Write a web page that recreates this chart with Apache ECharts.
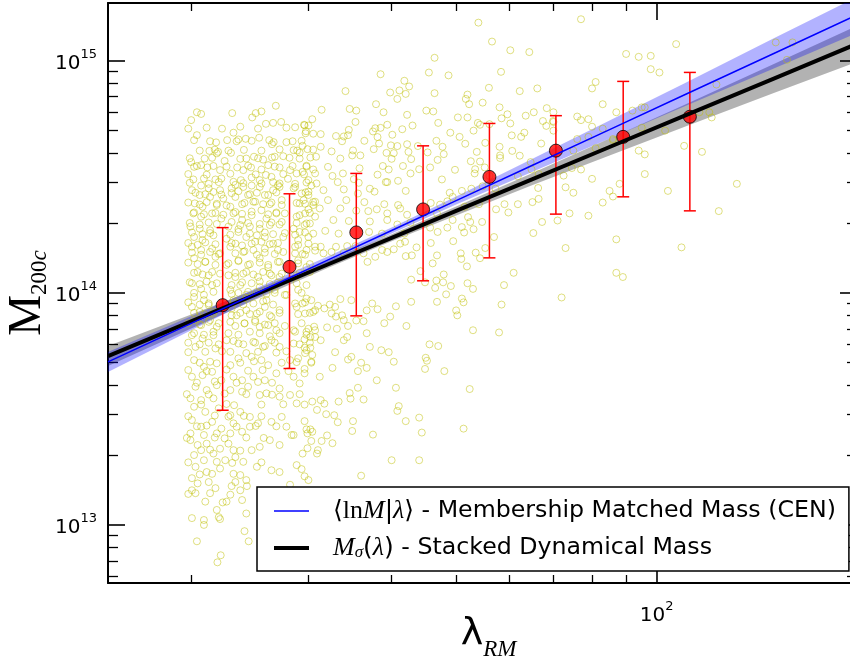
<!DOCTYPE html>
<html>
<head>
<meta charset="utf-8">
<script src="https://cdn.jsdelivr.net/npm/echarts@6/dist/echarts.min.js"></script>
<style>
  html, body { margin: 0; padding: 0; background: #fff; }
  #main { width: 850px; height: 657px; }
</style>
</head>
<body>
<div id="main"></div>
<script>
// masses are in units of 1e14
var MU = 1e14;

// stacked bins (red points with error bars)
var binLambda = [22.3, 28.1, 35.4, 44.6, 56.1, 70.6, 89.1, 112.2];
var binMass = [0.885, 1.294, 1.821, 2.288, 3.16, 4.10, 4.70, 5.74];
var binLow = [0.312, 0.472, 0.796, 1.127, 1.415, 2.184, 2.593, 2.256];
var binHigh = [1.91, 2.672, 3.27, 4.30, 5.37, 5.80, 8.15, 8.91];

// fitted relations and their bands
var fitLambda = [15, 20, 25, 32, 40, 50, 65, 85, 110, 150, 200];
var membFit = [0.504, 0.739, 0.994, 1.380, 1.857, 2.498, 3.539, 5.053, 7.122, 10.75, 15.76];
var membLow = [0.4565, 0.6895, 0.9458, 1.3334, 1.803, 2.401, 3.318, 4.622, 6.353, 9.267, 13.18];
var membHigh = [0.5567, 0.7922, 1.0447, 1.4295, 1.9127, 2.598, 3.775, 5.527, 7.983, 12.49, 18.84];
var dynFit = [0.534, 0.7532, 0.9836, 1.3216, 1.7258, 2.2535, 3.0839, 4.25, 5.7847, 8.383, 11.83];
var dynLow = [0.4834, 0.7025, 0.9359, 1.2764, 1.6668, 2.155, 2.9052, 3.9068, 5.188, 7.261, 9.893];
var dynHigh = [0.5897, 0.8076, 1.0337, 1.3686, 1.7868, 2.3565, 3.2734, 4.6238, 6.4537, 9.683, 14.146];

// individual clusters [lambda, M/1e14]
var clusterPoints = [
  // high richness
  [77,15.1],[107,11.8],[151,12],[160,12],[157,10.1],[90,10.7],[94,10.4],[98,10.5],[98,9.2],[101,8.9],
  [81,8.1],[80,7.6],[123,7.9],[83,6.5],[70,6.0],[87,6.0],[92,6.1],[95,6.3],[96,6.3],[76,5.75],
  [77,5.55],[79,5.6],[70,5.45],[80,5.2],[83,5.1],[70,5.0],[95,5.15],[103,5.0],[116,6.0],[120,6.0],
  [121,5.7],[76,4.6],[79,4.7],[86,4.55],[86,4.6],[75,4.1],[81,4.2],[94,4.1],[96,3.95],[110,4.3],
  [117,4.05],[72.5,3.2],[74.6,3.45],[77,3.4],[80,3.1],[96,3.25],[88,2.95],[132,2.95],[104,2.75],[73,2.85],
  [75,2.7],[85,2.75],[86,2.6],[83,2.45],[74,2.2],[71,2.05],[79,2.15],[124,2.25],[87,1.7],[73,1.56],
  [109,1.57],[87,1.22],[89,1.17],[72,0.955],
  // middle richness, upper part
  [54,14.6],[56.6,12.1],[60.3,11.1],[64.4,10.9],[46.4,10.3],[58.4,8.96],[45.5,8.9],[48.7,8.65],[38.5,8.75],[41.8,8.2],
  [42.5,7.75],[41.1,7.45],[39.8,7.3],[34.1,7.4],[42,7.2],[40.8,6.85],[46.4,7.25],[52,7.15],[51.7,6.85],[56,7.65],
  [62.3,7.4],[66.2,7.6],[54.8,6.6],[52.3,6.5],[37.9,6.5],[31.4,6.15],[34.6,6.2],[35.4,6.1],[38.9,6.0],[45.1,6.1],
  [46.2,6.05],[58.1,6.3],[65.4,6.0],[68.4,6.25],[30.4,5.6],[35.3,5.45],[42.2,5.85],[50.3,5.7],[52,5.7],[53.9,5.4],
  [58.5,5.65],[59.7,5.88],[63.6,5.8],[67.5,5.5],[69.9,5.5],[29.6,5.27],[30,5.26],[34.5,5.04],[37.8,5.12],[38.5,5.14],
  [39.4,5.3],[43,5.26],[47,5.4],[54.3,5.3],[56.1,5.33],[60.3,5.37],[68.3,5.24],[29.7,4.87],[30.5,4.85],[31.3,4.83],
  [33,4.74],[33.9,4.72],[34.4,4.78],[37.5,4.96],[38.1,4.69],[40.1,4.8],[41.5,5.07],[49,4.9],[50.6,4.7],[53.1,5.0],
  [60.6,4.77],[62.6,4.7],[63.3,4.9],[29.3,4.52],[33.7,4.5],[36.4,4.52],[38.3,4.4],[39.9,4.32],[40.8,4.29],[42.2,4.37],
  [46.7,4.52],[47.7,4.26],[51.6,4.39],[55.3,4.43],[58.1,4.26],[67.1,4.4],[31.3,4.26],[32.5,4.07],[35,4.11],[35.9,3.91],
  [37.6,4.16],[39.3,4.01],[40.3,4.0],[42.4,4.05],[43.8,4.29],[45.3,4.03],[47.9,3.96],[53.7,4.05],[58.2,3.91],[60.7,4.09],
  [62.3,3.9],[30.2,3.83],[30.8,3.86],[33.5,3.79],[34.9,3.91],[40,3.78],[42.8,3.77],[46.9,3.74],[52.6,3.69],[54.3,3.68],
  [58.2,3.81],[64.7,3.66],[29.8,3.53],[32.1,3.49],[35.8,3.44],[38.8,3.52],[39.6,3.4],[41.6,3.52],[44,3.41],[45.7,3.47],
  [49.8,3.39],[53.4,3.41],[55.2,3.47],[64.9,3.4],[29.4,3.32],[30.7,3.27],[32.6,3.19],[33.8,3.27],[35.1,3.09],[38.1,3.23],
  [39.4,3.0],[40.9,3.04],[42.7,3.27],[47.6,3.08],[53.3,3.27],[56.1,3.19],[61.9,3.18],[66.5,3.25],[30,3.06],[33.2,3.0],
  [35.7,2.98],[37.1,2.81],[37.7,2.73],[39.2,3.0],[42,2.75],[48.9,2.7],[49.4,2.59],[51,2.75],[52.7,2.81],[54.8,2.88],
  [57.3,2.81],[66.4,2.83],[66.5,2.54],[29.7,2.71],[31.6,2.77],[33.9,2.79],[35.6,2.68],[29.5,2.51],[30.7,2.47],[32.1,2.51],
  [34.2,2.51],[36.4,2.46],[39,2.41],[40.9,2.39],[45.8,2.44],[47.3,2.4],[48.5,2.48],[51.5,2.35],[54.1,2.41],[59.1,2.41],
  [61.9,2.41],[65.1,2.46],[30,2.29],[31.2,2.31],[33.5,2.31],[35.4,2.26],[36.9,2.25],[38,2.29],[39.4,2.2],[41.2,2.31],
  [42.2,2.17],[46.8,2.2],[49.4,2.06],[52.1,2.12],[57.4,2.29],[59.9,2.22],[30.7,2.13],[32.7,2.06],[34.5,2.04],[37.1,2.03],
  [39.4,2.06],[40.8,1.97],[42.7,2.01],[45.7,1.91],[48.5,1.91],[51,1.92],[52.5,2.02],[53.1,1.88],[54.7,2.02],[65.3,1.81],
  [67.3,2.02],[29.6,1.96],[31.8,1.85],[33.3,1.8],[37,1.83],[38.7,1.8],[41.8,1.8],[46.9,1.83],[51.4,1.82],[57,1.74],
  // middle richness, lower part
  [61,1.22],[59,1.08],[58.5,0.89],[58,0.675],[53,0.69],[53,1.04],[52,1.1],[51,0.945],[51.3,0.91],[50,0.84],
  [50.2,0.80],[52.4,0.385],[51.3,0.26],[48,0.46],[45.6,0.6],[47,0.59],[45,0.525],[45.2,0.51],[44.9,0.47],[44,0.29],
  [44.4,0.25],[44,0.19],[42,0.28],[40.6,0.39],[41,0.325],[40.8,0.31],[40,0.19],[38,0.42],[37.5,0.245],[36,0.163],
  [36.7,0.475],[36,0.5],[35.6,0.46],[35.6,0.39],[34.6,0.37],[34.7,0.35],[36.3,0.347],[35,0.28],[34.9,0.254],[33.3,0.34],
  [33.2,0.277],[32.8,0.297],[31.9,0.30],[31.7,0.333],[31.3,0.345],[30.9,0.313],[30.4,0.34],[29.6,0.33],[29.6,0.28],[29.8,0.258],
  [30.2,0.258],[29.9,0.248],[30.4,0.252],[32,0.243],[32.6,0.225],[31.4,0.23],[30.3,0.23],[29.9,0.214],[31,0.21],[30.9,0.203],
  [29.4,0.203],[29.3,0.174],[29.6,0.162],[30,0.156],[31.2,0.435],[32.6,0.475],[32.9,0.555],[34.4,0.516],[34.8,0.53],[30.3,0.5],
  [29.6,0.45],[29.6,0.47],[30.4,0.54],[30.2,0.58],[29.6,0.58],[29.6,0.63],[30.2,0.645],[30.7,0.645],[31.3,0.625],[33.9,0.625],
  [34.3,0.645],[34.4,0.72],[33.1,0.70],[32,0.71],[30.6,0.715],[30,0.70],[37.1,0.585],[38.6,0.566],[39.6,0.555],[40.3,0.505],
  [36.7,0.67],[39,0.74],[39.8,0.79],[42.1,0.72],[40.6,0.875],[38.1,0.85],[37.4,0.9],[36.7,0.84],[36.3,0.755],[35.4,0.76],
  [34.8,0.93],[33.5,0.94],[32.9,0.87],[32.3,0.89],[31.7,0.857],[31,0.88],[30.3,0.93],[29.8,0.945],[29.4,0.9],[30.7,0.842],
  [32.5,0.815],[33,0.79],[33.7,0.80],[33.9,0.763],[29.4,1.47],[29.8,1.53],[30.7,1.52],[31.3,1.58],[31.6,1.48],[32.5,1.5],
  [33,1.58],[33.9,1.49],[34.3,1.59],[35.3,1.59],[36.3,1.48],[36.8,1.36],[37.8,1.43],[38.7,1.53],[39.4,1.5],[40.3,1.54],
  [41.2,1.63],[41.9,1.66],[42.9,1.45],[42,1.44],[43.6,1.57],[45.8,1.64],[46.8,1.45],[49.5,1.67],[50.8,1.48],[50.9,1.4],
  [53.5,1.49],[54.3,1.41],[55.3,1.56],[51.9,1.3],[46.1,1.34],[47.9,1.2],[46.7,1.13],[47.8,1.11],[48.3,0.985],[49.1,1.07],
  [46.5,1.05],[46.8,0.915],[44.9,1.11],[44.2,1.24],[42.8,1.14],[42.8,0.915],
  // low richness, dense column
  [26.8,6.4],[20.7,5.9],[20,5.55],[25,5.95],[24.7,5.7],[20.4,4.78],[25.9,5.35],[26.55,5.4],[27.3,5.45],[28.65,5.17],
  [29.55,5.3],[29.75,4.97],[23.15,4.9],[22.65,4.55],[21.8,4.45],[23.4,4.5],[24.15,4.61],[25.3,4.66],[26.45,4.37],[26.6,4.46],
  [27.8,4.46],[29.4,4.3],[21.95,4.05],[21.3,4.09],[20,3.66],[20.95,3.79],[22.95,4.01],[22.45,3.7],[24.2,3.79],[24.85,3.86],
  [25.65,3.75],[26.7,3.86],[27.5,3.88],[28.1,3.82],[28.5,4.12],[29.1,4.02],[29.9,4.16],[30.5,4.14],[21.85,3.99],
  [20.2,3.49],[20.7,3.55],[21.15,3.47],[21.6,3.52],[22.1,3.38],[23.45,3.47],[23.95,3.38],[24.6,3.47],[25.5,3.4],[26.1,3.55],
  [27.15,3.47],[28.15,3.38],[28.8,3.27],[30.5,3.4],[20.15,3.08],[20.9,3.11],[21.75,3.08],[22.2,3.11],[23.15,3.01],[23.75,3.06],
  [24.65,3.14],[25.35,3.06],[26.4,3.16],[27.15,2.96],[27.95,3.1],[28.65,2.86],[30.85,2.96],
  [20.05,2.77],[20.6,2.64],[21.25,2.82],[21.35,2.59],[22.1,2.77],[22.35,2.55],[23,2.82],[23.3,2.59],[23.95,2.86],[24.35,2.64],
  [25.35,2.86],[25.8,2.64],[26.55,2.77],[27.15,2.86],[27.35,2.51],[28.5,2.82],[29.1,2.43],[30,2.64],[30.5,2.39],[20.25,2.43],
  [20.8,2.35],[21.85,2.39],[22.9,2.35],[23.85,2.41],[24.95,2.47],[26.25,2.41],[25.5,2.27],
  [20.15,2.2],[20.7,2.13],[21.5,2.2],[22.2,2.09],[23.15,2.2],[23.85,2.06],[24.65,2.16],[25.95,2.09],[26.85,2.2],[27.35,2.02],
  [28.8,2.13],[29.65,2.2],[30.15,1.99],[19.95,1.93],[20.6,1.89],[21.35,1.86],[22.75,1.93],[23.55,1.88],[24.5,1.93],[25.35,1.89],
  [26.25,1.96],[28.5,1.89],[29.1,1.83],
  [20.2,1.74],[20.8,1.69],[21.6,1.77],[22.6,1.71],[23.3,1.63],[24.2,1.74],[24.95,1.66],[25.8,1.74],[26.55,1.63],[27.5,1.74],
  [28.95,1.69],[30,1.74],[30.7,1.58],[20.05,1.58],[20.7,1.53],[21.5,1.55],[22.1,1.48],[22.9,1.58],[23.95,1.5],[24.8,1.53],
  [25.8,1.55],[27,1.53],[28.65,1.58],
  [20.2,1.41],[21,1.36],[21.75,1.43],[22.6,1.32],[23.55,1.38],[24.35,1.32],[25.35,1.41],[26.1,1.29],[27.15,1.36],[28.95,1.38],
  [29.8,1.29],[20.45,1.23],[21.25,1.19],[22.1,1.21],[23.3,1.17],[24.2,1.23],[25.2,1.17],[26.25,1.21],[27.15,1.17],[28.8,1.19],
  [30.15,1.23],
  [20.05,1.1],[20.7,1.04],[21.5,1.08],[22.9,1.03],[23.7,1.08],[24.35,1.01],[25.35,1.06],[26.7,1.03],[27.8,0.98],[28.95,1.03],
  [20.2,0.96],[20.9,0.93],[23.15,0.93],[24.2,0.95],[25.95,0.93],
  [20.05,0.87],[20.6,0.828],[21.25,0.885],[21.6,0.815],[23,0.857],[23.4,0.8],[24.2,0.842],[25.1,0.815],[25.8,0.87],[26.4,0.788],
  [27.15,0.842],[28.8,0.87],[29.65,0.815],[30.5,0.828],[20.2,0.763],[20.7,0.726],[21.35,0.763],[21.85,0.714],[22.9,0.75],[24.05,0.738],
  [24.95,0.763],[25.35,0.714],[26.1,0.726],[26.85,0.69],[28.5,0.69],[29.8,0.679],[30.7,0.69],
  [20.05,0.657],[20.8,0.636],[21.6,0.657],[22.6,0.625],[23.55,0.605],[24.8,0.615],[25.65,0.585],[26.4,0.625],[27.15,0.585],[28.5,0.605],
  [29.8,0.566],[30.3,0.505],[20.3,0.585],[21,0.557],[21.75,0.576],[22.9,0.557],[23.55,0.522],[24.65,0.53],[25.5,0.513],[26.1,0.488],
  [28.15,0.513],[28.95,0.522],[20.2,0.513],[20.9,0.48],[21.85,0.497],[22.9,0.488],
  [20.05,0.435],[20.8,0.442],[21.5,0.457],[22.2,0.42],[23.15,0.435],[23.85,0.42],[24.8,0.435],[25.8,0.42],[26.85,0.45],[27.15,0.387],
  [28.5,0.435],[29.1,0.407],[20.3,0.394],[21.1,0.381],[21.85,0.4],[22.9,0.381],[23.85,0.375],[24.35,0.394],[25.35,0.363],[25.95,0.369],
  [27.15,0.357],[28.15,0.363],[28.8,0.334],[19.95,0.351],[20.7,0.345],[21.6,0.351],
  [20.2,0.323],[21,0.307],[22,0.318],[22.9,0.297],[23.7,0.307],[24.5,0.292],[25.2,0.274],[26.4,0.278],[27.35,0.292],[27.8,0.265],
  [28.5,0.244],[20.05,0.283],[20.7,0.265],[21.5,0.278],[22.2,0.26],[23.15,0.274],[23.85,0.252],[24.5,0.265],[19.95,0.248],[20.9,0.244],
  [21.85,0.248],[22.9,0.248],
  [19.95,0.232],[20.45,0.221],[21.1,0.224],[22.1,0.213],[22.75,0.224],[23.15,0.21],[25.35,0.217],[26.25,0.232],[27.15,0.221],[28.3,0.244],
  [20.2,0.2],[20.9,0.19],[21.6,0.203],[22.5,0.19],[23.3,0.196],[23.95,0.187],[25.1,0.178],[26.4,0.172],[27.15,0.169],[28.8,0.181],
  [20.3,0.178],[21.1,0.169],[22.1,0.175],[23.15,0.166],[24.2,0.156],
  [20.05,0.159],[20.45,0.151],[21.25,0.153],[21.75,0.144],[23.7,0.141],[23.85,0.128],[22.6,0.126],[22.3,0.125],[21,0.126],[20.3,0.137],
  [21.85,0.116],[22,0.108],[20.9,0.105],[20.05,0.107],[24.2,0.112],[28.15,0.149],[24.05,0.094],[24.4,0.085],[20.4,0.085],[22.15,0.074],
  [21.9,0.069],[20.05,0.141],[22.1,0.106],[20.9,0.1],[23,0.147],[23.3,0.153],[24.25,0.147]
];

// the most crowded part of the low-richness column, read row by row
var coreClusters = [
  [19.9,2.98],[20.7,2.9],[21.25,2.95],[22,3.0],[23.3,2.92],[23.95,2.97],[24.65,2.9],[25.5,2.96],[26.55,3.0],[27,2.91],[28.65,2.95],[29.8,2.99],[30.3,2.9],
  [20.3,2.7],[21,2.66],[21.6,2.72],[22.2,2.65],[23,2.69],[23.55,2.74],[24.5,2.66],[25.1,2.7],[26.1,2.64],[26.85,2.71],[29.3,2.68],[30,2.73],
  [19.8,2.45],[20.6,2.4],[21.1,2.46],[21.85,2.42],[22.6,2.38],[24.05,2.44],[24.8,2.47],[25.65,2.41],[26.4,2.45],[27.35,2.39],[28.8,2.44],[29.65,2.42],[30.5,2.46],
  [20.2,2.22],[20.9,2.18],[21.75,2.21],[22.35,2.17],[23.3,2.23],[23.85,2.19],[24.65,2.24],[26.1,2.18],[26.85,2.22],[27.65,2.2],[29.1,2.16],[30.15,2.21],
  [19.9,2.0],[20.6,1.97],[21.25,2.01],[21.85,1.98],[23,2.02],[23.7,1.96],[24.35,2.0],[25.35,1.98],[26.4,2.01],[27.15,1.97],[28.8,2.0],[29.8,1.99],
  [20.05,1.82],[20.8,1.79],[21.35,1.81],[22.9,1.78],[23.55,1.83],[24.5,1.8],[25.1,1.77],[25.8,1.82],[26.55,1.79],[27.65,1.81],[28.65,1.78],[29.65,1.82],[30.5,1.8],
  [19.8,1.64],[20.45,1.61],[21,1.65],[21.75,1.62],[23,1.64],[23.85,1.6],[24.65,1.63],[25.5,1.66],[26.25,1.62],[27,1.64],[28.95,1.61],[30,1.63],
  [20.05,1.49],[20.7,1.46],[21.35,1.5],[22,1.47],[23.3,1.48],[24.05,1.51],[25.1,1.46],[25.8,1.49],[26.7,1.47],[27.5,1.5],[28.65,1.48],[29.65,1.46],
  [19.8,1.35],[20.45,1.33],[21,1.36],[21.75,1.32],[22.75,1.34],[23.55,1.37],[24.5,1.33],[25.35,1.35],[26.1,1.32],[27,1.36],[28.95,1.34],[30.15,1.33],
  [20.2,1.22],[20.8,1.2],[21.5,1.23],[22.75,1.19],[23.3,1.22],[23.95,1.21],[24.8,1.2],[25.65,1.23],[26.4,1.19],[27.35,1.21],[29.1,1.22],
  [19.9,1.11],[20.6,1.09],[21.1,1.12],[21.85,1.1],[23,1.08],[23.85,1.11],[24.65,1.1],[25.35,1.12],[26.25,1.09],[27,1.11],[28.8,1.1],[29.8,1.08],
  [20.2,1.0],[20.9,0.98],[21.6,1.01],[23,0.99],[23.55,1.0],[24.2,0.98],[25.1,1.01],[25.95,0.99],[26.7,1.0],[27.65,0.98],[29.3,1.0],
  [19.8,0.91],[20.6,0.89],[21.25,0.9],[23.15,0.91],[23.95,0.89],[24.8,0.9],[25.65,0.92],[26.55,0.89],[28.65,0.9],[29.65,0.91],
  [20.2,0.82],[20.9,0.81],[21.6,0.83],[23,0.8],[23.7,0.82],[24.5,0.81],[25.35,0.83],[26.25,0.8],[27.15,0.82],[28.95,0.81],[30.15,0.82],
  [19.8,0.74],[20.6,0.73],[21.25,0.75],[22,0.74],[23.3,0.72],[24.05,0.74],[24.95,0.75],[25.8,0.73],[26.7,0.74],[27.65,0.72],[29.3,0.74],
  [20.2,0.67],[20.9,0.66],[21.6,0.68],[22.75,0.67],[23.55,0.66],[24.5,0.68],[25.35,0.67],[26.25,0.65],[27.15,0.67],[28.65,0.68],[29.8,0.66],
  [19.8,0.61],[20.6,0.6],[21.25,0.61],[22,0.6],[23.15,0.62],[23.95,0.6],[24.95,0.61],[25.8,0.59],[26.7,0.61],[29.1,0.6],[30.15,0.61],
  // upper and lower fringes of the column
  [20.4,6.0],[23.05,5.95],[25.5,6.05],
  [19.8,5.1],[21.1,5.15],[22.25,5.1],[23.7,5.2],[25.2,5.1],[27.8,5.15],
  [20.2,4.55],[21.35,4.5],[23.55,4.58],[24.65,4.52],[26.2,4.55],[28.4,4.5],
  [20.6,4.1],[21.7,4.14],[22.75,4.1],[24,4.13],[25.5,4.1],[27.15,4.15],[28.85,4.1],
  [19.9,3.8],[21.5,3.82],[23.7,3.78],[25.2,3.8],[26.45,3.83],[29.1,3.79],
  [20.4,3.52],[22.6,3.5],[24.35,3.53],[26.7,3.5],[28.4,3.52],[29.8,3.5],
  [19.8,3.25],[21.1,3.23],[22.9,3.26],[25,3.24],[25.9,3.22],[27.5,3.25],[29.55,3.24],
  [19.8,0.555],[22.25,0.56],[24.2,0.55],[25.2,0.557],[26.85,0.553],[27.8,0.56],[29.65,0.55],
  [20.6,0.5],[21.35,0.505],[23.7,0.5],[24.85,0.507],[27.35,0.5],[28.8,0.503],
  [19.8,0.465],[21.1,0.46],[22.6,0.467],[24.35,0.462],[25.6,0.465],[28,0.46],
  [20.4,0.41],[21.7,0.415],[23.4,0.41],[25.2,0.413],[26.45,0.41],
  [19.7,0.366],[21.25,0.365],[22.45,0.368],[24.2,0.366],[26.45,0.364],[29.1,0.366],
  [20.7,0.33],[22.6,0.332],[23.2,0.328],[25.5,0.33],[27.5,0.331],
  [19.8,0.294],[21.7,0.296],[22.75,0.293],[24,0.295],[25.5,0.294],
  [20.4,0.266],[21.1,0.268],[23.4,0.265],[25,0.267],[26.85,0.266],
  [19.7,0.237],[21.7,0.238],[22.45,0.236],[24.2,0.238],[25.7,0.237],
  [20.7,0.21],[21.35,0.211],[23.7,0.209],[24.65,0.21],
  [19.8,0.186],[21.85,0.187],[23.05,0.185],[25.5,0.186],
  [20.6,0.165],[21.5,0.166],[23.7,0.164],
  [19.8,0.136],[21.35,0.137],[22.9,0.135]
];

var chart = echarts.init(document.getElementById('main'), null, { renderer: 'canvas' });

var scaled = function (arr) { return arr.map(function (v) { return v * MU; }); };
var pairs = function (xs, ys) { return xs.map(function (x, i) { return [x, ys[i]]; }); };

var supLabel = function (v) {
  return '{b|10}{s|' + Math.round(Math.log10(v)) + '}';
};
var labelRich = {
  b: { fontSize: 20, fontFamily: 'DejaVu Sans', color: '#000', padding: [6, 0, 0, 0], verticalAlign: 'bottom' },
  s: { fontSize: 13, fontFamily: 'DejaVu Sans', color: '#000', verticalAlign: 'top' }
};

function makeAxis(pos, min, max, minorLen, label) {
  var ax = {
    type: 'log', logBase: 10, min: min, max: max, position: pos,
    axisLine: { show: true, lineStyle: { color: '#000', width: 2 } },
    axisTick: { show: true, inside: true, length: 17, lineStyle: { color: '#000', width: 1.6 } },
    minorTick: { show: true, splitNumber: 9, length: minorLen, lineStyle: { color: '#000', width: 1.3 } },
    axisLabel: { show: false },
    splitLine: { show: false },
    minorSplitLine: { show: false },
    nameMoveOverlap: false,
    silent: true
  };
  if (label) {
    ax.axisLabel = { show: true, formatter: supLabel, rich: labelRich, margin: label,
      showMinLabel: false, showMaxLabel: false };
  }
  return ax;
}

var xMin = 15, xMax = 200, yMin = 5.62e12, yMax = 1.774e15;

var xAxes = [
  makeAxis('bottom', xMin, xMax, 8, 17),
  makeAxis('top', xMin, xMax, 8)
];
xAxes[0].name = '{a|λ}{b|RM}';
xAxes[0].nameLocation = 'middle';
xAxes[0].nameGap = 32;
xAxes[0].nameTextStyle = { rich: {
  a: { fontSize: 38, fontFamily: 'DejaVu Sans', color: '#000', padding: [0, 0, 8, 12], verticalAlign: 'bottom' },
  b: { fontSize: 23, fontFamily: 'Liberation Serif', fontStyle: 'italic', color: '#000', verticalAlign: 'bottom' }
} };

var yAxes = [
  makeAxis('left', yMin, yMax, 10, 11),
  makeAxis('right', yMin, yMax, 10)
];
yAxes[0].name = '{a|M}{b|200}{c|c}';
yAxes[0].nameLocation = 'middle';
yAxes[0].nameGap = 57;
yAxes[0].nameRotate = 90;
yAxes[0].nameTextStyle = { rich: {
  a: { fontSize: 46, fontFamily: 'Liberation Serif', color: '#000', verticalAlign: 'bottom' },
  b: { fontSize: 23, fontFamily: 'Liberation Serif', color: '#000', verticalAlign: 'bottom' },
  c: { fontSize: 23, fontFamily: 'Liberation Serif', fontStyle: 'italic', color: '#000', verticalAlign: 'bottom' }
} };

// a filled band drawn as one polygon through the axes' own mapping
var bandSeries = function (name, lo, hi, color, z) {
  return {
    name: name, type: 'custom', z: z, silent: true, clip: true,
    data: [[fitLambda[0], lo[0] * MU]],
    renderItem: function (params, api) {
      var pts = [];
      for (var i = 0; i < fitLambda.length; i++) pts.push(api.coord([fitLambda[i], hi[i] * MU]));
      for (var j = fitLambda.length - 1; j >= 0; j--) pts.push(api.coord([fitLambda[j], lo[j] * MU]));
      return { type: 'polygon', shape: { points: pts }, style: { fill: color } };
    }
  };
};

var legendMath = {
  g: { width: 19 },
  m: { fontSize: 25, fontFamily: 'DejaVu Sans', color: '#000', lineHeight: 26 },
  r: { fontSize: 26, fontFamily: 'Liberation Serif', color: '#000', lineHeight: 26 },
  i: { fontSize: 26, fontFamily: 'Liberation Serif', fontStyle: 'italic', color: '#000', lineHeight: 26 },
  sub: { fontSize: 17, fontFamily: 'Liberation Serif', fontStyle: 'italic', color: '#000', lineHeight: 17, verticalAlign: 'bottom' },
  t: { fontSize: 23.7, fontFamily: 'DejaVu Sans', color: '#000', lineHeight: 26 }
};

var option = {
  animation: false,
  backgroundColor: '#fff',
  grid: { left: 108, top: 3, width: 749, height: 580, containLabel: false, outerBoundsMode: 'none' },
  xAxis: xAxes,
  yAxis: yAxes,
  legend: {
    data: [
      { name: 'memb', lineStyle: { width: 1.5, color: '#0000ff' } },
      { name: 'dyn', lineStyle: { width: 4, color: '#000' } }
    ],
    orient: 'vertical',
    left: 257, top: 487,
    padding: [11, 13, 10, 15],
    itemWidth: 35, itemHeight: 14, itemGap: 11,
    itemStyle: { color: 'rgba(0,0,0,0)', borderColor: 'rgba(0,0,0,0)', borderWidth: 0, opacity: 0 },
    backgroundColor: '#fff',
    borderColor: '#000', borderWidth: 1.5, borderRadius: 0,
    selectedMode: false,
    textStyle: { rich: legendMath, fontSize: 23.7, fontFamily: 'DejaVu Sans', color: '#000' },
    formatter: function (name) {
      if (name === 'memb') {
        return '{g| }{m|⟨}{r|ln}{i|M}{m||}{i|λ}{m|⟩}{t| - Membership Matched Mass (CEN)}';
      }
      return '{g| }{i|M}{sub|σ}{m|(}{i|λ}{m|)}{t| - Stacked Dynamical Mass}';
    },
    z: 20
  },
  series: [
    bandSeries('dynband', dynLow, dynHigh, 'rgba(0,0,0,0.3)', 1),
    bandSeries('membband', membLow, membHigh, 'rgba(0,0,255,0.3)', 2),
    { name: 'clusters', type: 'scatter', z: 3, silent: true,
      data: clusterPoints.concat(coreClusters).map(function (p) { return [p[0], p[1] * MU]; }),
      symbol: 'circle', symbolSize: 7, large: false,
      itemStyle: { color: 'rgba(0,0,0,0)', borderColor: 'rgba(191,191,0,0.62)', borderWidth: 1 } },
    { name: 'errors', type: 'custom', z: 4, silent: true, clip: true,
      data: binLambda.map(function (l, i) { return [l, binMass[i] * MU, binLow[i] * MU, binHigh[i] * MU]; }),
      encode: { x: 0, y: [1, 2, 3] },
      renderItem: function (params, api) {
        var lo = api.coord([api.value(0), api.value(2)]);
        var hi = api.coord([api.value(0), api.value(3)]);
        var st = { stroke: '#ff0000', lineWidth: 1.5 };
        return { type: 'group', children: [
          { type: 'line', shape: { x1: lo[0], y1: lo[1], x2: hi[0], y2: hi[1] }, style: st },
          { type: 'line', shape: { x1: lo[0] - 6, y1: lo[1], x2: lo[0] + 6, y2: lo[1] }, style: st },
          { type: 'line', shape: { x1: hi[0] - 6, y1: hi[1], x2: hi[0] + 6, y2: hi[1] }, style: st }
        ] };
      } },
    { name: 'bins', type: 'scatter', z: 5, silent: true,
      data: pairs(binLambda, scaled(binMass)),
      symbol: 'circle', symbolSize: 13,
      itemStyle: { color: '#ff0000', borderColor: '#000', borderWidth: 1 } },
    { name: 'dyn', type: 'line', z: 6, silent: true,
      data: pairs(fitLambda, scaled(dynFit)),
      showSymbol: false, symbol: 'none', color: '#000',
      lineStyle: { color: '#000', width: 4 } },
    { name: 'memb', type: 'line', z: 7, silent: true,
      data: pairs(fitLambda, scaled(membFit)),
      showSymbol: false, symbol: 'none', color: '#0000ff',
      lineStyle: { color: '#0000ff', width: 1.5 } }
  ]
};

chart.setOption(option);
</script>
</body>
</html>
